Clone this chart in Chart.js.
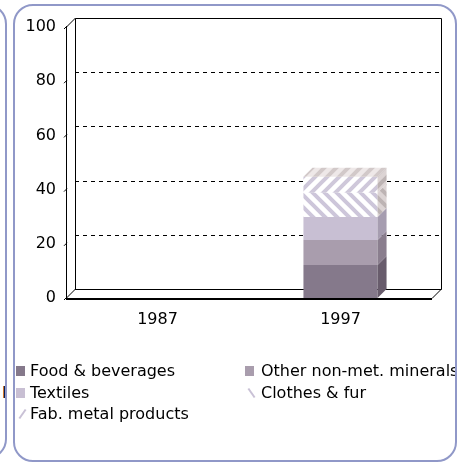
<!DOCTYPE html>
<html>
<head>
<meta charset="utf-8">
<script src="https://cdn.jsdelivr.net/npm/chart.js@4.4.1/dist/chart.umd.min.js"></script>
<style>
    html, body { margin: 0; padding: 0; background: #fff; }
    #wrap { position: relative; width: 465px; height: 463px; overflow: hidden; }
    .panel { position: absolute; border: 2px solid #9098c8; border-radius: 20px; box-sizing: border-box; background: #fff; }
    #left-panel { left: -400px; top: 4px; width: 407px; height: 455px; overflow: hidden; }
    #main-panel { left: 13px; top: 4px; width: 444px; height: 458px; }
    #chart { position: absolute; left: 0; top: 0; }
    #legend { position: absolute; left: 0; top: 0; width: 455px; height: 463px; overflow: hidden; font-family: "DejaVu Sans", sans-serif; font-size: 16px; color: #000; }
    .lg-item { position: absolute; white-space: nowrap; line-height: 20px; }
    .lg-mark { position: absolute; width: 9px; height: 10px; }
    .lg-text { position: absolute; }
    .stub { position: absolute; left: 400px; top: 377px; font-family: "DejaVu Sans", sans-serif; font-size: 16px; }
</style>
</head>
<body>
<div id="wrap">
    <div id="left-panel" class="panel"><span class="stub">l</span></div>
    <div id="main-panel" class="panel"></div>
    <canvas id="chart" width="465" height="463"></canvas>
    <div id="legend"></div>
</div>
<script>
/* ---- data ---- */
const years = ['1987', '1997'];
const seriesNames = ['Food & beverages', 'Other non-met. minerals', 'Textiles', 'Clothes & fur', 'Fab. metal products'];
const food = [null, 12.2];
const otherMinerals = [null, 9.2];
const textiles = [null, 8.5];
const clothes = [null, 8.9];
const fabMetal = [null, 5.9];
const yTicks = [0, 20, 40, 60, 80, 100];

const DEPTH = 9;

function hatch(dir, fg, bg) {
    const s = 12;
    const c = document.createElement('canvas');
    c.width = c.height = s;
    const g = c.getContext('2d');
    g.fillStyle = bg; g.fillRect(0, 0, s, s);
    g.strokeStyle = fg; g.lineWidth = 4;
    g.beginPath();
    if (dir === '/') {
        g.moveTo(-3, s + 3); g.lineTo(s + 3, -3);
        g.moveTo(-3, 3); g.lineTo(3, -3);
        g.moveTo(s - 3, s + 3); g.lineTo(s + 3, s - 3);
    } else {
        g.moveTo(-3, -3); g.lineTo(s + 3, s + 3);
        g.moveTo(s - 3, -3); g.lineTo(s + 3, 3);
        g.moveTo(-3, s - 3); g.lineTo(3, s + 3);
    }
    g.stroke();
    return g.createPattern(c, 'repeat');
}

// front, side, top colours for each series
const fronts = ['#85798b', '#a99dad', '#c8bfd3', hatch('\\', '#cdc6da', '#ffffff'), hatch('/', '#cfc8da', '#ffffff')];
const sides = ['#685c6c', '#8a7e8e', '#a69db0', hatch('\\', '#bdb4b4', '#dcd4d4'), hatch('/', '#bdb4b4', '#dcd4d4')];
const tops = ['#9c90a0', '#bcb0c0', '#dcd4e4', hatch('\\', '#d2c9c9', '#eee8e8'), hatch('/', '#d2c9c9', '#eee8e8')];
const legendMarks = ['#85798b', '#a99dad', '#c8bfd3', '\\', '/'];

const values = [food, otherMinerals, textiles, clothes, fabMetal];

const box3d = {
    id: 'box3d',
    beforeDatasetsDraw(chart) {
        const { ctx, chartArea: a, scales: { y } } = chart;
        const L = a.left, R = a.right, T = a.top, B = a.bottom, D = DEPTH;
        ctx.save();
        ctx.strokeStyle = '#000';
        ctx.lineWidth = 1;
        // dashed gridlines on the back wall
        ctx.setLineDash([4, 4]);
        yTicks.forEach(t => {
            if (t === 0 || t === 100) return;
            const py = Math.round(y.getPixelForValue(t) - D) + 0.5;
            ctx.beginPath(); ctx.moveTo(L + D, py); ctx.lineTo(R + D, py); ctx.stroke();
        });
        ctx.setLineDash([]);
        // back wall
        ctx.beginPath();
        ctx.moveTo(L + D + 0.5, B - D);
        ctx.lineTo(L + D + 0.5, T - D + 0.5);
        ctx.lineTo(R + D + 0.5, T - D + 0.5);
        ctx.lineTo(R + D + 0.5, B - D + 0.5);
        ctx.lineTo(L + D, B - D + 0.5);
        ctx.stroke();
        // left wall
        ctx.beginPath();
        ctx.moveTo(L + 0.5, T); ctx.lineTo(L + 0.5, B);
        ctx.moveTo(L + 0.5, T); ctx.lineTo(L + D + 0.5, T - D);
        ctx.moveTo(L + 0.5, B); ctx.lineTo(L + D + 0.5, B - D);
        ctx.stroke();
        // tick marks
        yTicks.forEach(t => {
            const py = y.getPixelForValue(t);
            ctx.beginPath(); ctx.moveTo(L - 2, py + 2); ctx.lineTo(L + 1, py - 1); ctx.stroke();
        });
        // floor
        ctx.beginPath();
        ctx.moveTo(R, B + 0.5); ctx.lineTo(R + D, B - D + 0.5);
        ctx.stroke();
        ctx.lineWidth = 2;
        ctx.beginPath(); ctx.moveTo(L, B + 1); ctx.lineTo(R, B + 1); ctx.stroke();
        ctx.restore();
    },
    afterDatasetsDraw(chart) {
        const { ctx } = chart;
        const D = DEPTH;
        const n = chart.data.datasets.length;
        ctx.save();
        years.forEach((yr, i) => {
            let topIdx = -1;
            for (let d = 0; d < n; d++) {
                const el = chart.getDatasetMeta(d).data[i];
                if (!el || values[d][i] == null) continue;
                const { x, y, base, width } = el.getProps(['x', 'y', 'base', 'width'], true);
                const r = x + width / 2;
                ctx.fillStyle = sides[d];
                ctx.beginPath();
                ctx.moveTo(r, base); ctx.lineTo(r, y); ctx.lineTo(r + D, y - D); ctx.lineTo(r + D, base - D);
                ctx.closePath(); ctx.fill();
                topIdx = d;
            }
            if (topIdx >= 0) {
                const el = chart.getDatasetMeta(topIdx).data[i];
                const { x, y, width } = el.getProps(['x', 'y', 'width'], true);
                const l = x - width / 2, r = x + width / 2;
                ctx.fillStyle = tops[topIdx];
                ctx.beginPath();
                ctx.moveTo(l, y); ctx.lineTo(l + D, y - D); ctx.lineTo(r + D, y - D); ctx.lineTo(r, y);
                ctx.closePath(); ctx.fill();
            }
        });
        ctx.restore();
    }
};

const tickFont = { family: 'DejaVu Sans', size: 16 };

new Chart(document.getElementById('chart'), {
    type: 'bar',
    data: {
        labels: years,
        datasets: values.map((v, d) => ({
            label: seriesNames[d], data: v, backgroundColor: fronts[d], borderWidth: 0,
            categoryPercentage: 1, barPercentage: 0.405
        }))
    },
    options: {
        responsive: false, animation: false,
        layout: { padding: { top: 27, left: 0, right: 33, bottom: 135 } },
        plugins: { legend: { display: false }, tooltip: { enabled: false } },
        scales: {
            x: {
                stacked: true,
                grid: { display: false, drawTicks: false }, border: { display: false },
                ticks: { font: tickFont, color: '#000', padding: 12 },
                afterFit: s => { s.height = 30; }
            },
            y: {
                stacked: true, min: 0, max: 100,
                grid: { display: false, drawTicks: false }, border: { display: false },
                ticks: { font: tickFont, color: '#000', padding: 10, stepSize: 20, callback: v => yTicks.includes(v) ? v : '' },
                afterFit: s => { s.width = 66; }
            }
        }
    },
    plugins: [box3d]
});

// legend, two columns
const legend = document.getElementById('legend');
const cols = [16, 245], rows = [371, 393, 414];
seriesNames.forEach((name, d) => {
    const cx = cols[d % 2], cy = rows[Math.floor(d / 2)];
    const item = document.createElement('div');
    item.className = 'lg-item';
    item.style.left = cx + 'px';
    item.style.top = (cy - 10) + 'px';
    const mark = legendMarks[d];
    let markHtml;
    if (mark === '/' || mark === '\\') {
        const rot = mark === '/' ? -55 : 55;
        markHtml = `<span class="lg-mark" style="left:1px;top:5px;"><span style="position:absolute;left:0;top:4px;width:11px;height:2px;background:#c9c1d6;transform:rotate(${rot}deg)"></span></span>`;
    } else {
        markHtml = `<span class="lg-mark" style="left:0;top:5px;background:${mark}"></span>`;
    }
    item.innerHTML = markHtml + `<span class="lg-text" style="left:${d % 2 ? 16 : 14}px;top:0">${name.replace('&', '&amp;')}</span>`;
    legend.appendChild(item);
});
</script>
</body>
</html>
